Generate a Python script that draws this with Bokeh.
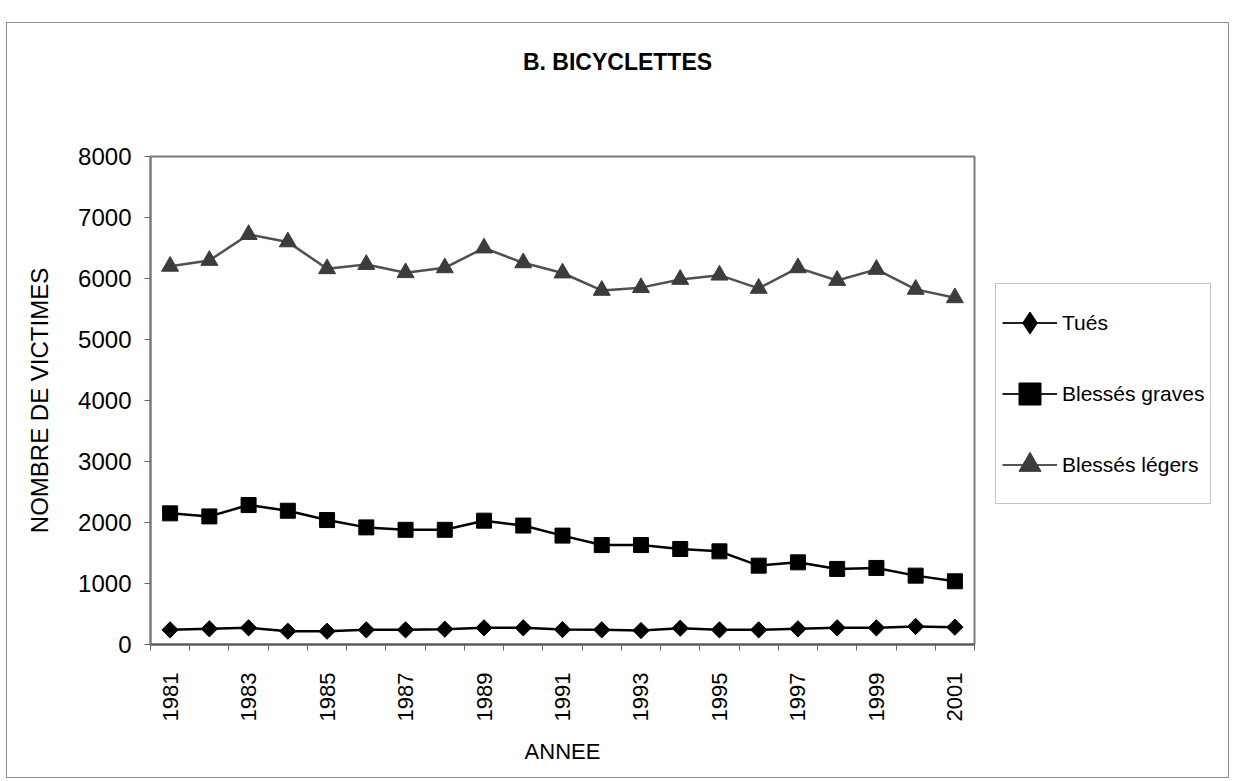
import math
from bokeh.plotting import figure
from bokeh.models import Legend, LegendItem, FixedTicker, Range1d, Spacer, Div
from bokeh.layouts import column, row
from bokeh.embed import file_html
from bokeh.resources import INLINE

years = list(range(1981, 2002))
tues = [240, 257, 273, 218, 218, 240, 240, 251, 273, 273, 245, 240, 229, 267, 240, 240, 257, 273, 273, 295, 284]
graves = [2150, 2100, 2286, 2193, 2040, 1920, 1880, 1880, 2030, 1950, 1785, 1630, 1630, 1566, 1527, 1293, 1347, 1239, 1255, 1129, 1036]
legers = [6200, 6296, 6720, 6600, 6160, 6230, 6095, 6175, 6500, 6257, 6090, 5805, 5850, 5985, 6055, 5838, 6175, 5968, 6149, 5822, 5684]
tick_years = list(range(1981, 2002, 2))
y_ticks = list(range(0, 8001, 1000))
title_text = "B. BICYCLETTES"
series_names = ["Tués", "Blessés graves", "Blessés légers"]

FONT = "Liberation Sans"

p = figure(width=969, height=646, output_backend="svg", toolbar_location=None,
           x_range=Range1d(1980.5, 2001.5), y_range=Range1d(0, 8000),
           min_border_left=143, min_border_right=2, min_border_top=25, min_border_bottom=133)
p.background_fill_color = "white"
p.border_fill_color = "white"
p.grid.visible = False
p.outline_line_color = "#7a7a7a"
p.outline_line_width = 2

# x axis
xa = p.xaxis[0]
xa.ticker = FixedTicker(ticks=tick_years, minor_ticks=[1980.5 + i for i in range(22)])
xa.major_tick_in = 0
xa.major_tick_out = 0
xa.minor_tick_in = 0
xa.minor_tick_out = 6
xa.minor_tick_line_color = "#666666"
xa.minor_tick_line_width = 1
xa.major_label_orientation = math.pi / 2
xa.major_label_standoff = 22
xa.major_label_text_font = FONT
xa.major_label_text_font_size = "22px"
xa.major_label_text_color = "black"
xa.axis_label = "ANNEE"
xa.axis_label_text_font = FONT
xa.axis_label_text_font_size = "22px"
xa.axis_label_text_font_style = "normal"
xa.axis_label_text_color = "black"
xa.axis_label_standoff = 15
xa.axis_line_color = "#555555"
xa.axis_line_width = 2

# y axis
ya = p.yaxis[0]
ya.ticker = FixedTicker(ticks=y_ticks)
ya.minor_tick_line_color = None
ya.major_tick_in = 0
ya.major_tick_out = 6
ya.major_tick_line_color = "#666666"
ya.major_label_standoff = 13
ya.major_label_text_font = FONT
ya.major_label_text_font_size = "24px"
ya.major_label_text_color = "black"
ya.axis_label = "NOMBRE DE VICTIMES"
ya.axis_label_text_font = FONT
ya.axis_label_text_font_size = "24px"
ya.axis_label_text_font_style = "normal"
ya.axis_label_text_color = "black"
ya.axis_label_standoff = 22
ya.axis_line_color = "#7a7a7a"
ya.axis_line_width = 2

# series
p.line(years, tues, line_color="black", line_width=2.5)
p.scatter(years, tues, marker="square", angle=math.pi / 4, size=11.5,
          fill_color="black", line_color="black")
p.line(years, graves, line_color="black", line_width=2.5)
p.scatter(years, graves, marker="square", size=15, fill_color="black", line_color="black")
p.line(years, legers, line_color="#505050", line_width=2.5)
p.scatter(years, legers, marker="triangle", size=17, fill_color="#3c3c3c", line_color="#3c3c3c")

# legend panel: a bare figure whose renderers (same data) lie outside its view
lf = figure(width=252, height=646, output_backend="svg", toolbar_location=None,
            x_axis_location=None, y_axis_location=None,
            x_range=Range1d(0, 1), y_range=Range1d(0, 1),
            min_border_left=0, min_border_right=0, min_border_top=0, min_border_bottom=0)
lf.grid.visible = False
lf.outline_line_color = None
lf.background_fill_color = "white"
lf.border_fill_color = "white"
a1 = lf.line(years, tues, line_color="#222222", line_width=2)
b1 = lf.scatter(years, tues, marker="diamond", size=17, fill_color="black", line_color="black")
a2 = lf.line(years, graves, line_color="#222222", line_width=2)
b2 = lf.scatter(years, graves, marker="square", size=16, fill_color="black", line_color="black")
a3 = lf.line(years, legers, line_color="#555555", line_width=2)
b3 = lf.scatter(years, legers, marker="triangle", size=15, fill_color="#3c3c3c", line_color="#3c3c3c")

legend = Legend(items=[
    LegendItem(label=series_names[0], renderers=[a1, b1]),
    LegendItem(label=series_names[1], renderers=[a2, b2]),
    LegendItem(label=series_names[2], renderers=[a3, b3]),
], location=(19, 140))
legend.label_text_font = FONT
legend.label_text_font_size = "21px"
legend.label_text_color = "black"
legend.glyph_width = 55
legend.glyph_height = 65
legend.label_height = 65
legend.label_standoff = 5
legend.spacing = 6
legend.padding = 6
legend.margin = 0
legend.border_line_color = "#8c8c8c"
legend.border_line_width = 1
legend.background_fill_color = "white"
lf.add_layout(legend, "center")

title_div = Div(
    text=('<div style="width:1221px;text-align:center;padding-top:26px;'
          "font-family:'Liberation Sans';font-weight:bold;font-size:23px;"
          'line-height:26px;color:black">' + title_text + '</div>'),
    width=1221, height=108, margin=0)

box = column(title_div, row(p, lf))
box.styles = {"border": "1px solid #8c8c8c"}
page = row(Spacer(width=6, height=10), column(Spacer(width=10, height=22), box))

open("out.html", "w").write(file_html(page, INLINE))
